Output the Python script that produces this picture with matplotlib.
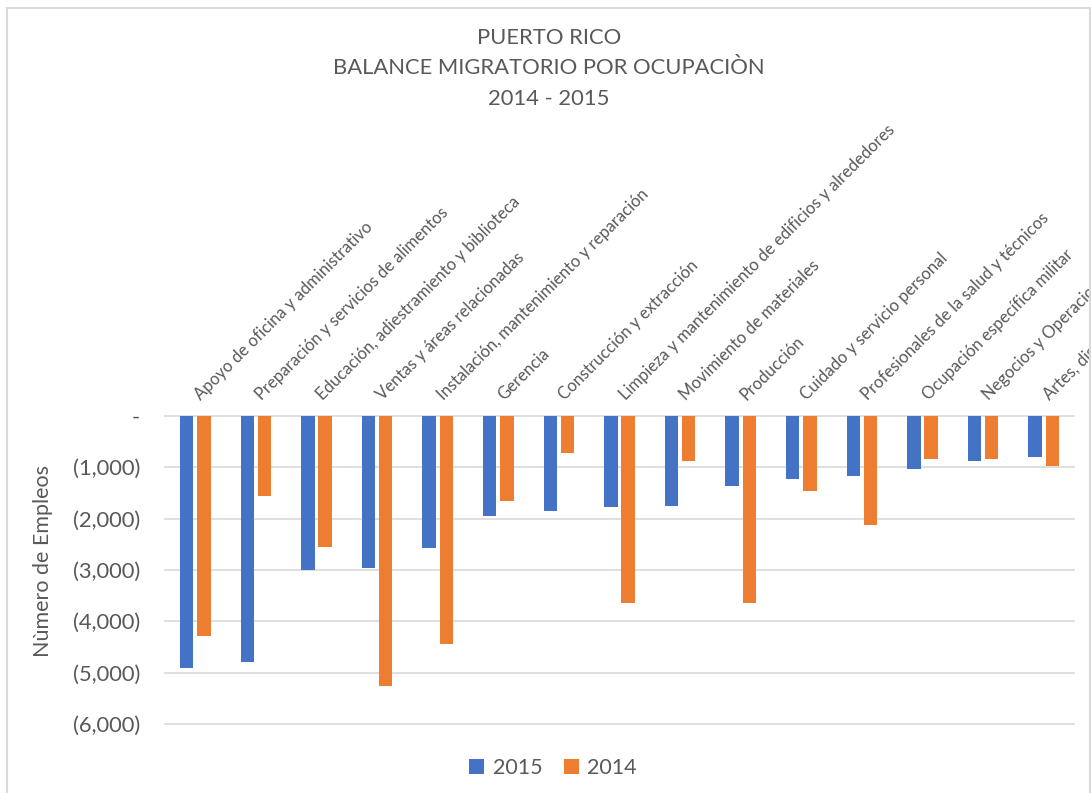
import numpy as np
import matplotlib.pyplot as plt
from matplotlib.patches import Rectangle
from matplotlib.ticker import FuncFormatter
from matplotlib.transforms import ScaledTranslation

categories = [
    'Apoyo de oficina y administrativo',
    'Preparación y servicios de alimentos',
    'Educación, adiestramiento y biblioteca',
    'Ventas y áreas relacionadas',
    'Instalación, mantenimiento y reparación',
    'Gerencia',
    'Construcción y extracción',
    'Limpieza y mantenimiento de edificios y alrededores',
    'Movimiento de materiales',
    'Producción',
    'Cuidado y servicio personal',
    'Profesionales de la salud y técnicos',
    'Ocupación específica militar',
    'Negocios y Operaciones financieras',
    'Artes, diseño, entretenimiento, deportes y medios',
]
v2015 = [-4900, -4800, -3000, -2970, -2570, -1940, -1850, -1780, -1750,
         -1360, -1230, -1160, -1030, -870, -800]
v2014 = [-4280, -1550, -2550, -5260, -4440, -1660, -730, -3650, -880,
         -3650, -1460, -2130, -840, -830, -970]
yticks = [0, -1000, -2000, -3000, -4000, -5000, -6000]

W, H = 1091, 793
grey = '#595959'
plt.rcParams['font.family'] = ['Lato', 'DejaVu Sans']

fig = plt.figure(figsize=(W / 100, H / 100), dpi=100)
ax = fig.add_axes([165 / W, 1 - 724 / H, 909 / W, 308 / H])

x = np.arange(len(categories))
w = 0.22
ax.bar(x - 0.143, v2015, w, color='#4472C4', label='2015', zorder=3)
ax.bar(x + 0.143, v2014, w, color='#ED7D31', label='2014', zorder=3)

ax.set_xlim(-0.5, len(categories) - 0.5)
ax.set_ylim(-6000, 0)
ax.set_yticks(yticks)
ax.yaxis.set_major_formatter(FuncFormatter(
    lambda v, p: '-' if v == 0 else f'({abs(v):,.0f})'))
ax.tick_params(axis='y', length=0, pad=18, labelsize=15.8, labelcolor=grey)
ax.yaxis.grid(True, color='#d9d9d9', lw=1.2, zorder=0)
for gl in ax.get_ygridlines():
    gl.set_clip_on(False)
for s in ax.spines.values():
    s.set_visible(False)

# category names sit above the plot, slanted
ax.xaxis.tick_top()
ax.set_xticks(x)
ax.set_xticklabels(categories, rotation=45, ha='left', va='baseline',
                   rotation_mode='anchor', fontsize=12, color=grey)
ax.tick_params(axis='x', length=0, pad=11)
shift = ScaledTranslation(0.06, 0, fig.dpi_scale_trans)
for lbl in ax.get_xticklabels():
    lbl.set_transform(lbl.get_transform() + shift)

fig.text(43 / W, 1 - 561 / H, 'Nùmero de Empleos', rotation=90,
         ha='center', va='center', fontsize=15.5, color=grey)
fig.text(549 / W, 1 - 68.5 / H, 'PUERTO RICO\nBALANCE MIGRATORIO POR OCUPACIÒN\n2014 - 2015',
         ha='center', va='center', fontsize=15.8, color=grey, linespacing=1.65)

ax.legend(loc='center', bbox_to_anchor=(553 / W, 1 - 768 / H),
          bbox_transform=fig.transFigure, ncol=2, frameon=False,
          fontsize=15.5, labelcolor=grey, handlelength=0.7, handleheight=0.7,
          handletextpad=0.4, columnspacing=1.0)

fig.add_artist(Rectangle((7 / W, -0.1), (1090 - 7) / W, 1.1 - 8 / H,
                         transform=fig.transFigure, fill=False,
                         edgecolor='#d9d9d9', lw=1.5))

fig.savefig('out.png', dpi=100, facecolor='white')
